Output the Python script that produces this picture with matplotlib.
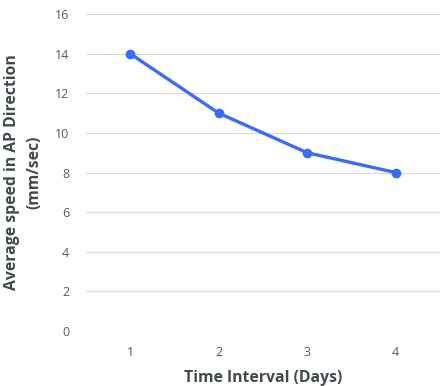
import matplotlib.pyplot as plt

plt.rcParams['font.family'] = ['Open Sans', 'DejaVu Sans']

# data
days = [1, 2, 3, 4]
speed = [14, 11, 9, 8]

fig = plt.figure(figsize=(4.47, 3.86), dpi=100)
ax = fig.add_axes([0.192, 0.1425, 0.792, 0.8212])

ax.plot(days, speed, color='#3b6cf6', linewidth=2.4, marker='o', markersize=6,
        solid_capstyle='round', zorder=3)

ax.set_xlim(0.5, 4.5)
ax.set_ylim(0, 16)
ax.set_yticks(range(0, 17, 2))
ax.set_xticks(days)

ax.grid(axis='y', color='#d9d9d9', linewidth=0.9)
ax.set_axisbelow(True)
for s in ax.spines.values():
    s.set_visible(False)
ax.tick_params(length=0, labelsize=9, colors='#595959')
ax.tick_params(axis='x', pad=11)
ax.tick_params(axis='y', pad=12)

ax.set_xlabel('Time Interval (Days)', fontsize=11.3, fontweight='bold',
              color='#404a4a', labelpad=8)
ax.set_ylabel('Average speed in AP Direction\n(mm/sec)', fontsize=11.3,
              fontweight='bold', color='#404a4a', labelpad=9, linespacing=1.55)

fig.savefig('out.png', dpi=100)
